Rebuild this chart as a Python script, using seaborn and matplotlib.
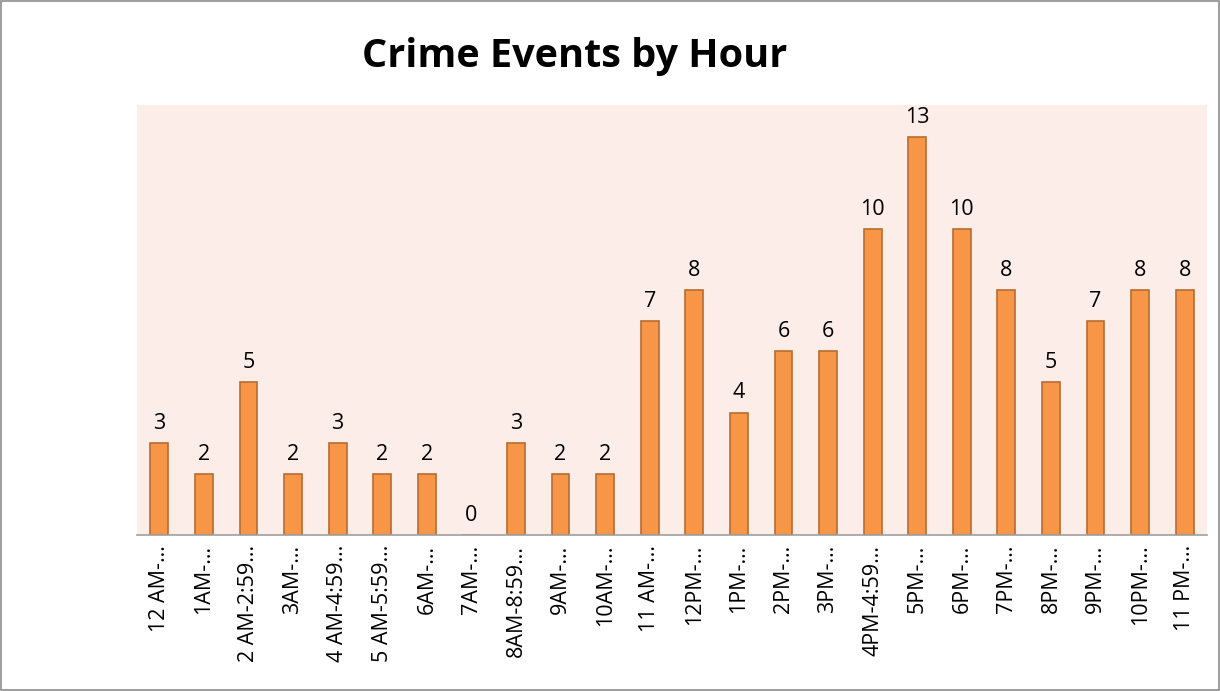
import matplotlib
matplotlib.use("Agg")
import matplotlib.pyplot as plt
import seaborn as sns
import pandas as pd
from matplotlib.patches import Rectangle

hour_labels = ["12 AM-…", "1AM-…", "2 AM-2:59…", "3AM-…", "4 AM-4:59…", "5 AM-5:59…",
               "6AM-…", "7AM-…", "8AM-8:59…", "9AM-…", "10AM-…", "11 AM-…",
               "12PM-…", "1PM-…", "2PM-…", "3PM-…", "4PM-4:59…", "5PM-…",
               "6PM-…", "7PM-…", "8PM-…", "9PM-…", "10PM-…", "11 PM-…"]
crime_counts = [3, 2, 5, 2, 3, 2, 2, 0, 3, 2, 2, 7, 8, 4, 6, 6, 10, 13, 10, 8, 5, 7, 8, 8]

df = pd.DataFrame({"hour": hour_labels, "count": crime_counts})

sns.set_style("white")
plt.rcParams["font.family"] = ["Open Sans", "DejaVu Sans"]
plt.rcParams["text.color"] = "black"
plt.rcParams["xtick.color"] = "black"

fig = plt.figure(figsize=(12.2, 6.91), dpi=100)
ax = fig.add_axes([137 / 1220, 1 - 535 / 691, 1070 / 1220, 430 / 691])

sns.barplot(data=df, x="hour", y="count", color="#F79646", width=0.4,
            edgecolor="#B66D31", linewidth=1.2, saturation=1, ax=ax)

# value labels over bars
for i, v in enumerate(crime_counts):
    ax.text(i, v + 0.3, str(v), ha="center", va="bottom", fontsize=15.5, color="black")

ax.set_facecolor("#FCEDE8")
ax.set_ylim(0, 14.05)
ax.set_xlim(-0.5, len(hour_labels) - 0.5)
ax.set_xlabel("")
ax.set_ylabel("")
ax.set_yticks([])
ax.set_xticks(range(len(hour_labels)))
ax.set_xticklabels(hour_labels, rotation=90, fontsize=15.5)
ax.tick_params(axis="x", length=0, pad=7, labelcolor="black")
for s in ["top", "right", "left"]:
    ax.spines[s].set_visible(False)
ax.spines["bottom"].set_color("#A0A0A0")
ax.spines["bottom"].set_linewidth(1.2)

fig.text(575 / 1220, 1 - 57 / 691, "Crime Events by Hour", ha="center", va="center",
         fontsize=28.5, fontweight="bold", color="black")

# outer chart border
fig.patches.append(Rectangle((0.001, 0.001), 0.998, 0.997, transform=fig.transFigure,
                             fill=False, edgecolor="#8C8C8C", linewidth=1.2))

fig.savefig("out.png", dpi=100)
